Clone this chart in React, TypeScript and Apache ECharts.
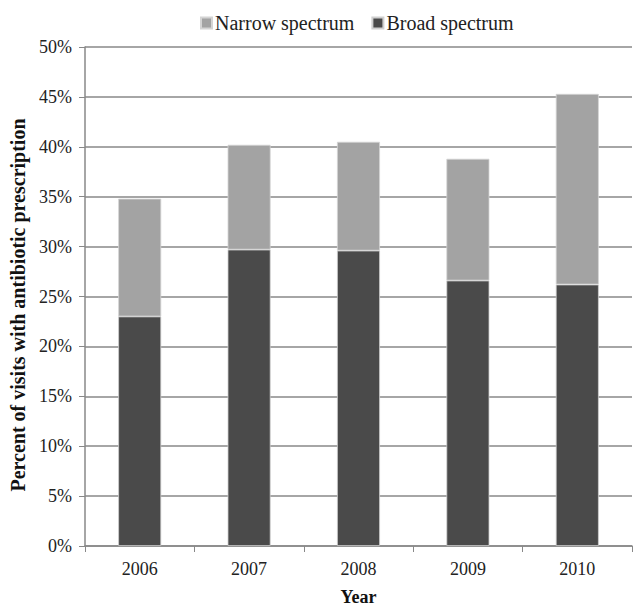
import React, { useEffect, useRef } from "react";
import * as echarts from "echarts";

const years = ["2006", "2007", "2008", "2009", "2010"];
const broad = [23.0, 29.7, 29.6, 26.6, 26.2];
const narrow = [11.8, 10.5, 10.9, 12.2, 19.1];
const yTicks = [0, 5, 10, 15, 20, 25, 30, 35, 40, 45, 50];
const yTitle = "Percent of visits with antibiotic prescription";

const FONT = "Liberation Serif, DejaVu Serif, serif";

export default function App() {
  const ref = useRef<HTMLDivElement>(null);
  useEffect(() => {
    if (!ref.current) return;
    const chart = echarts.init(ref.current, null, { renderer: "svg" });
    chart.setOption({
      animation: false,
      backgroundColor: "#ffffff",
      textStyle: { fontFamily: FONT },
      legend: {
        left: 195,
        top: 8,
        itemWidth: 11,
        itemHeight: 11,
        itemGap: 17,
        icon: "rect",
        textStyle: { fontFamily: FONT, fontSize: 20, color: "#222", padding: [0, 0, 0, -2] },
        data: ["Narrow spectrum", "Broad spectrum"],
      },
      graphic: [
        {
          type: "text",
          x: 18,
          y: 305,
          rotation: Math.PI / 2,
          style: {
            text: yTitle,
            fontFamily: FONT,
            fontSize: 20,
            fontWeight: "bold",
            fill: "#111",
            align: "center",
            verticalAlign: "middle",
          },
        },
      ],
      grid: { left: 85, right: 1, top: 47, bottom: 62, containLabel: false },
      xAxis: {
        type: "category",
        data: years,
        name: "Year",
        nameLocation: "middle",
        nameGap: 42,
        nameTextStyle: { fontFamily: FONT, fontSize: 18, fontWeight: "bold", color: "#111" },
        axisLine: { lineStyle: { color: "#888", width: 1.5 } },
        axisTick: { show: true, length: 6, lineStyle: { color: "#888" } },
        axisLabel: { fontFamily: FONT, fontSize: 18, color: "#222", margin: 14 },
      },
      yAxis: {
        type: "value",
        min: 0,
        max: 50,
        interval: 5,
        axisLine: { show: true, lineStyle: { color: "#888", width: 1.5 } },
        axisTick: { show: true, length: 6, lineStyle: { color: "#888" } },
        axisLabel: {
          fontFamily: FONT,
          fontSize: 18,
          color: "#222",
          margin: 13,
          formatter: (v: number) => (yTicks.includes(v) ? v + "%" : ""),
        },
        splitLine: { lineStyle: { color: "#888", width: 1.5 } },
      },
      series: [
        {
          name: "Broad spectrum",
          type: "bar",
          stack: "total",
          data: broad,
          barWidth: 43,
          itemStyle: { color: "#4a4a4a", borderColor: "#cfcfcf", borderWidth: 0.8 },
        },
        {
          name: "Narrow spectrum",
          type: "bar",
          stack: "total",
          data: narrow,
          barWidth: 43,
          itemStyle: { color: "#a3a3a3", borderColor: "#d4d4d4", borderWidth: 0.8 },
        },
      ],
    });
    return () => chart.dispose();
  }, []);
  return (
    <div
      ref={ref}
      style={{ position: "absolute", left: 0, top: 0, width: 633, height: 611 }}
    />
  );
}
